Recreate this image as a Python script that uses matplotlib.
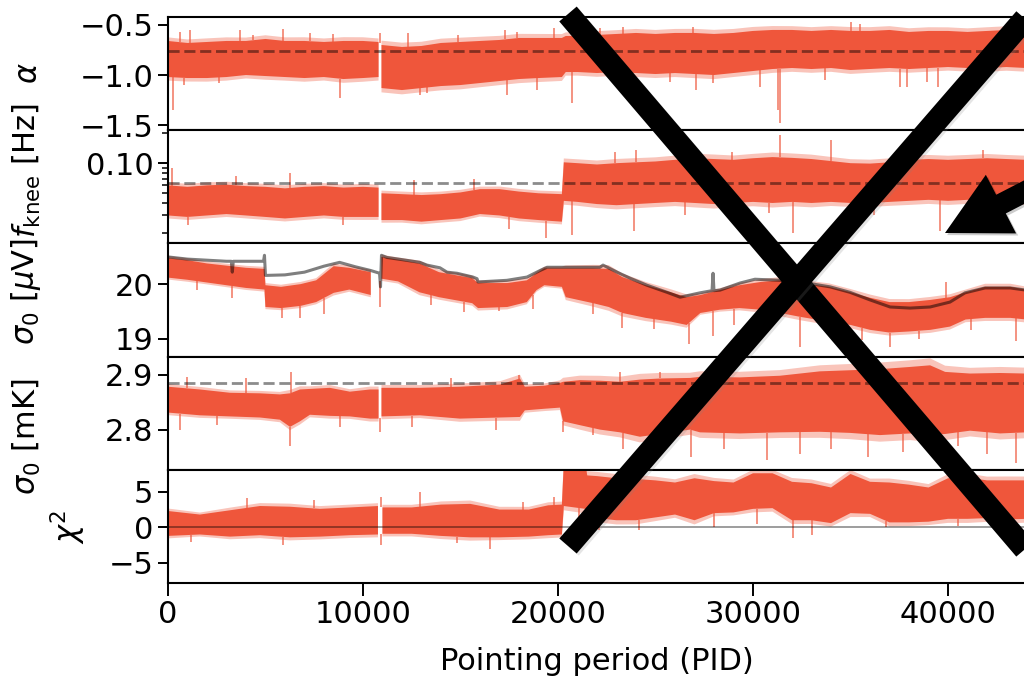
import numpy as np
import matplotlib
matplotlib.use('Agg')
import matplotlib.pyplot as plt
import matplotlib.patheffects as pe
from matplotlib.lines import Line2D
from matplotlib.patches import FancyArrow
from matplotlib.ticker import FixedLocator, NullFormatter, FormatStrFormatter, LogLocator

nan = np.nan

# --- alpha (spectral slope) ---
pid_a = [0, 1000, 2000, 3000, 4000, 5000, 6000, 7000, 8000, 9000, 10000, 10800, 10880, 10950,
         12000, 13000, 14000, 15000, 16000, 17000, 18000, 19000, 20200, 20400, 21000, 22000,
         23000, 24000, 25000, 26000, 27000, 28000, 29000, 30000, 31000, 32000, 33000, 34000,
         35000, 36000, 37000, 38000, 39000, 40000, 41000, 42000, 43000, 44000]
lo_a = [-1.02, -1.03, -1.03, -1.02, -1.00, -1.01, -1.02, -1.03, -1.02, -1.04, -1.03, -1.02, nan,
        -1.13, -1.15, -1.13, -1.11, -1.10, -1.08, -1.06, -1.04, -1.03, -1.02, -0.97, -0.97, -0.98,
        -0.97, -0.98, -0.99, -0.98, -0.99, -1.00, -0.98, -0.96, -0.94, -0.93, -0.94, -0.93, -0.95,
        -0.94, -0.93, -0.94, -0.93, -0.92, -0.93, -0.93, -0.92, -0.93]
hi_a = [-0.66, -0.68, -0.67, -0.66, -0.66, -0.64, -0.66, -0.66, -0.67, -0.66, -0.66, -0.67, nan,
        -0.70, -0.72, -0.71, -0.68, -0.67, -0.66, -0.65, -0.63, -0.63, -0.63, -0.61, -0.61, -0.60,
        -0.59, -0.58, -0.59, -0.58, -0.58, -0.59, -0.58, -0.56, -0.55, -0.55, -0.56, -0.55, -0.56,
        -0.56, -0.55, -0.57, -0.56, -0.56, -0.57, -0.56, -0.55, -0.56]
sp_a_pid = [250, 620, 800, 1130, 2600, 3700, 4360, 5900, 7280, 8460, 8820, 10870, 12300, 12900,
            13300, 14870, 17280, 17380, 17900, 18900, 19800, 20700, 22150, 23330, 25740, 26900,
            27100, 27950, 30360, 31300, 31400, 33700, 35000, 35500, 37540, 37900, 38900, 39500]
sp_a_val = [-1.35, -0.57, -1.10, -0.55, -1.08, -0.55, -0.60, -0.54, -0.58, -0.59, -1.23, -0.58,
            -0.58, -1.20, -1.18, -0.60, -0.55, -1.20, -0.57, -1.15, -0.53, -1.28, -0.53, -0.52,
            -1.07, -0.52, -1.15, -1.08, -1.12, -1.35, -1.48, -1.05, -0.47, -0.49, -1.12, -1.12,
            -1.07, -1.12]
ref_a = -0.76

# --- f_knee ---
pid_f = [0, 1000, 2000, 3000, 4000, 5000, 6000, 7000, 8000, 9000, 10000, 10800, 10880, 10950,
         12000, 13000, 14000, 15000, 16000, 17000, 18000, 19000, 20200, 20300, 21000, 22000,
         23000, 24000, 25000, 26000, 27000, 28000, 29000, 30000, 31000, 32000, 33000, 34000,
         35000, 36000, 37000, 38000, 39000, 40000, 41000, 42000, 43000, 44000]
lo_f = [0.030, 0.029, 0.030, 0.031, 0.030, 0.029, 0.028, 0.029, 0.030, 0.029, 0.029, 0.029, nan,
        0.027, 0.027, 0.026, 0.027, 0.028, 0.031, 0.030, 0.028, 0.027, 0.026, 0.042, 0.041, 0.039,
        0.038, 0.039, 0.040, 0.041, 0.040, 0.039, 0.040, 0.041, 0.040, 0.041, 0.040, 0.041, 0.040,
        0.040, 0.041, 0.042, 0.043, 0.042, 0.043, 0.042, 0.043, 0.042]
hi_f = [0.060, 0.058, 0.060, 0.061, 0.059, 0.058, 0.056, 0.058, 0.059, 0.057, 0.058, 0.057, nan,
        0.050, 0.049, 0.048, 0.049, 0.051, 0.055, 0.055, 0.052, 0.050, 0.049, 0.102, 0.100, 0.097,
        0.100, 0.102, 0.104, 0.108, 0.112, 0.110, 0.108, 0.112, 0.115, 0.113, 0.110, 0.105, 0.100,
        0.099, 0.102, 0.108, 0.110, 0.108, 0.110, 0.112, 0.110, 0.108]
sp_f_pid = [200, 1030, 3500, 6260, 9000, 12600, 15700, 17500, 19400, 20700, 22900, 23900, 24000,
            26500, 28900, 30800, 31400, 32050, 34000, 36200, 39600, 41800]
sp_f_val = [0.089, 0.024, 0.075, 0.079, 0.024, 0.068, 0.070, 0.022, 0.018, 0.019, 0.130, 0.021,
            0.135, 0.030, 0.129, 0.032, 0.190, 0.020, 0.170, 0.030, 0.021, 0.135]
ref_f = 0.063

# --- sigma0 [uV] ---
pid_s = [0, 1000, 2000, 3000, 4000, 4950, 5000, 5800, 6800, 7600, 8500, 9300, 10400, 10880,
         10950, 11800, 12900, 13900, 15600, 15900, 17400, 18400, 18900, 19300, 20200, 20400,
         21800, 22600, 23300, 24500, 25800, 26600, 27300, 28300, 29300, 30400, 31400, 32400,
         33900, 35000, 36000, 37000, 38000, 39100, 40100, 40900, 41900, 43200, 44000]
hi_s = [20.48, 20.44, 20.38, 20.34, 20.30, 20.28, 19.98, 19.95, 20.00, 20.07, 20.33, 20.30, 20.22,
        nan, 20.50, 20.45, 20.38, 20.22, 20.11, 20.02, 20.02, 20.07, 20.20, 20.29, 20.29, 20.29,
        20.29, 20.28, 20.13, 19.98, 19.85, 19.76, 19.80, 19.89, 19.98, 20.04, 20.07, 20.02, 19.95,
        19.85, 19.75, 19.67, 19.67, 19.71, 19.76, 19.85, 19.95, 19.95, 19.90]
lo_s = [20.12, 20.08, 20.03, 19.98, 19.93, 19.90, 19.58, 19.56, 19.60, 19.67, 19.84, 19.90, 19.80,
        nan, 20.10, 20.05, 19.85, 19.76, 19.65, 19.56, 19.58, 19.67, 19.89, 19.98, 19.95, 19.76,
        19.65, 19.58, 19.47, 19.38, 19.31, 19.25, 19.47, 19.53, 19.56, 19.53, 19.47, 19.40, 19.31,
        19.25, 19.16, 19.11, 19.13, 19.16, 19.22, 19.35, 19.38, 19.38, 19.35]
sp_s_pid = [1500, 3280, 5850, 6770, 8000, 10870, 13500, 15200, 17000, 18700, 21800, 23300, 24900,
            26700, 27950, 29000, 30600, 32400, 34400, 35600, 37000, 38500, 39900, 41200, 43500]
sp_s_val = [19.90, 19.75, 19.38, 19.38, 19.45, 19.58, 19.62, 19.48, 19.50, 19.55, 19.45, 19.20,
            19.18, 18.90, 19.04, 19.25, 19.30, 18.85, 19.05, 18.98, 18.84, 19.00, 20.04, 19.15, 18.95]
# white-noise level from the radiometer equation (grey curve)
pid_g = [0, 1000, 2000, 3000, 3250, 3300, 3350, 4000, 4900, 4950, 5000, 6000, 7000, 8000, 8800,
         9600, 10400, 10850, 10900, 10950, 11230, 12000, 12920, 13280, 13950, 14310, 14820, 15640,
         15850, 15900, 17380, 18410, 19080, 19440, 22150, 22310, 23030, 23690, 24560, 25590,
         26260, 27280, 27900, 27950, 28000, 28310, 29330, 30100, 31380, 32410, 33950, 34970,
         36000, 37030, 38050, 39080, 40100, 40870, 41900, 43180, 44000]
val_g = [20.50, 20.46, 20.44, 20.42, 20.42, 20.22, 20.42, 20.42, 20.42, 20.53, 20.16, 20.17,
         20.22, 20.33, 20.40, 20.32, 20.25, 20.20, 19.95, 20.53, 20.49, 20.45, 20.40, 20.35,
         20.30, 20.22, 20.20, 20.13, 20.10, 20.04, 20.07, 20.13, 20.25, 20.31, 20.31, 20.35,
         20.22, 20.11, 19.98, 19.85, 19.76, 19.84, 19.88, 20.20, 19.88, 19.89, 20.02, 20.09,
         20.07, 20.04, 19.95, 19.85, 19.71, 19.58, 19.56, 19.58, 19.67, 19.84, 19.93, 19.93, 19.89]

# --- sigma0 [mK] ---
pid_m = [0, 1640, 3180, 4720, 5740, 6260, 6770, 7280, 8300, 9330, 10360, 10800, 10880, 10950,
         12920, 14970, 17030, 18050, 18300, 19330, 20100, 20260, 21130, 22150, 23180, 24200,
         25230, 26770, 27280, 29330, 31380, 33430, 34970, 36510, 38050, 39080, 39850, 41130,
         42670, 44000]
hi_m = [2.878, 2.873, 2.867, 2.866, 2.864, 2.866, 2.873, 2.874, 2.876, 2.869, 2.873, 2.873, nan,
        2.876, 2.876, 2.878, 2.882, 2.893, 2.878, 2.880, 2.885, 2.887, 2.890, 2.889, 2.887, 2.891,
        2.893, 2.894, 2.896, 2.895, 2.898, 2.906, 2.908, 2.910, 2.914, 2.917, 2.905, 2.902, 2.903,
        2.902]
lo_m = [2.831, 2.826, 2.824, 2.822, 2.818, 2.805, 2.815, 2.827, 2.825, 2.824, 2.820, 2.820, nan,
        2.824, 2.826, 2.820, 2.822, 2.823, 2.835, 2.838, 2.840, 2.815, 2.808, 2.800, 2.795, 2.787,
        2.792, 2.800, 2.795, 2.793, 2.795, 2.796, 2.794, 2.790, 2.793, 2.790, 2.792, 2.798, 2.793,
        2.795]
sp_m_pid = [600, 1000, 2500, 4000, 6260, 6300, 8800, 10870, 12500, 14500, 16800, 18000, 20260,
            21800, 23180, 23330, 25000, 25250, 26800, 28500, 30700, 32400, 34000, 35900, 37700,
            40500, 42000, 43500]
sp_m_val = [2.800, 2.896, 2.808, 2.893, 2.770, 2.904, 2.805, 2.795, 2.805, 2.893, 2.800, 2.900,
            2.795, 2.790, 2.905, 2.765, 2.755, 2.905, 2.750, 2.765, 2.745, 2.755, 2.765, 2.750,
            2.760, 2.770, 2.755, 2.740]
ref_m = 2.885

# --- chi^2 ---
pid_c = [0, 1640, 3180, 4720, 6260, 7790, 9330, 10770, 10880, 11000, 12500, 14000, 15500, 17000,
         18500, 19500, 20200, 20300, 21400, 21500, 22000, 23000, 24000, 25000, 26000, 27000,
         28000, 29000, 30000, 31000, 32000, 33000, 34000, 35000, 36000, 37000, 38000, 39000,
         40000, 41000, 42000, 43000, 44000]
hi_c = [2.3, 1.8, 2.4, 3.0, 2.9, 2.6, 2.8, 3.0, nan, 2.8, 2.8, 3.2, 3.3, 2.5, 2.5, 3.1, 3.2, 9.0,
        9.0, 7.3, 7.2, 6.9, 6.8, 6.6, 6.3, 6.9, 6.5, 6.3, 7.6, 7.6, 6.4, 6.2, 5.6, 7.5, 6.4, 6.3,
        6.0, 5.6, 6.9, 7.0, 6.6, 6.6, 6.6]
lo_c = [-1.2, -1.0, -1.3, -1.1, -1.4, -1.3, -1.1, -1.0, nan, -0.9, -0.9, -1.2, -1.4, -1.4, -1.3,
        -1.1, -1.0, 3.0, 2.6, 1.4, 1.3, 1.0, 1.0, 1.4, 1.8, 1.0, 2.0, 2.1, 2.6, 2.7, 1.0, 1.0, 0.6,
        2.0, 1.9, 0.7, 0.7, 0.8, 1.2, 1.2, 1.3, 1.1, 1.2]
sp_c_pid = [1200, 4050, 5900, 7500, 10900, 10950, 12900, 14800, 16500, 18200, 19800, 21100,
            22100, 24150, 28000, 30200, 32050, 33050, 36800, 40500]
sp_c_val = [-2.0, 4.1, -2.5, 3.8, 4.2, -2.5, 4.9, -2.2, -3.0, 3.6, 4.2, 0.3, -0.4, -0.4, 0.0, 0.5,
            -1.5, -1.1, 0.0, 0.2]

RED = '#EF563B'
FS = 22

plt.rcParams['font.size'] = FS
plt.rcParams['axes.linewidth'] = 1.5
plt.rcParams['mathtext.fontset'] = 'dejavusans'

fig = plt.figure(figsize=(10.24, 6.77), dpi=100)
gs = fig.add_gridspec(5, 1, left=0.164, right=1.002, top=0.975, bottom=0.139, hspace=0)
axes = [fig.add_subplot(gs[i]) for i in range(5)]


def band(ax, pid, lo, hi, sp_pid, sp_val, log=False):
    pid = np.asarray(pid, float)
    lo = np.asarray(lo, float)
    hi = np.asarray(hi, float)
    # soft fringe around the dense part of the scatter
    if log:
        w = np.log(hi / lo) * 0.1
        ax.fill_between(pid, lo * np.exp(-w), hi * np.exp(w), color=RED, lw=0, alpha=0.35)
    else:
        w = (hi - lo) * 0.1
        ax.fill_between(pid, lo - w, hi + w, color=RED, lw=0, alpha=0.35)
    ax.fill_between(pid, lo, hi, color=RED, lw=0)
    ok = ~np.isnan(lo)
    lo_i = np.interp(sp_pid, pid[ok], lo[ok])
    hi_i = np.interp(sp_pid, pid[ok], hi[ok])
    start = np.where(np.asarray(sp_val) > hi_i, hi_i, lo_i)
    ax.vlines(sp_pid, start, sp_val, color=RED, lw=1.2, alpha=0.75)


band(axes[0], pid_a, lo_a, hi_a, sp_a_pid, sp_a_val)
band(axes[1], pid_f, lo_f, hi_f, sp_f_pid, sp_f_val, log=True)
band(axes[2], pid_s, lo_s, hi_s, sp_s_pid, sp_s_val)
band(axes[3], pid_m, lo_m, hi_m, sp_m_pid, sp_m_val)
band(axes[4], pid_c, lo_c, hi_c, sp_c_pid, sp_c_val)

dash = dict(color='k', ls='--', lw=2, alpha=0.45, dashes=(4, 1.7))
axes[0].axhline(ref_a, **dash)
axes[1].axhline(ref_f, **dash)
axes[3].axhline(ref_m, **dash)
axes[2].plot(pid_g, val_g, color='k', alpha=0.5, lw=2.2)
axes[4].axhline(0, color='k', alpha=0.45, lw=1.2)

axes[1].set_yscale('log')
axes[0].set_ylim(-1.55, -0.42)
axes[1].set_ylim(0.0158, 0.214)
axes[2].set_ylim(18.67, 20.75)
axes[3].set_ylim(2.727, 2.933)
axes[4].set_ylim(-7.8, 8.1)

axes[0].set_yticks([-1.5, -1.0, -0.5])
axes[1].yaxis.set_major_locator(FixedLocator([0.1]))
axes[1].yaxis.set_major_formatter(FormatStrFormatter('%.2f'))
axes[1].yaxis.set_minor_locator(LogLocator(base=10, subs=np.arange(2, 10)))
axes[1].yaxis.set_minor_formatter(NullFormatter())
axes[2].set_yticks([19, 20])
axes[3].set_yticks([2.8, 2.9])
axes[4].set_yticks([-5, 0, 5])

labels = [r'$\alpha$', r'$f_\mathrm{knee}$ [Hz]', r'$\sigma_0$ [$\mu$V]',
          r'$\sigma_0$ [mK]', r'$\chi^2$']
label_x = [-0.146, -0.146, -0.146, -0.146, -0.093]
label_y = [0.5, 0.64, 0.575, 0.29, 0.5]
for i, ax in enumerate(axes):
    ax.set_xlim(0, 44000)
    ax.tick_params(which='major', length=7, width=1.4, labelsize=FS)
    ax.tick_params(which='minor', length=4, width=1.1)
    ax.set_ylabel(labels[i], fontsize=FS)
    ax.yaxis.set_label_coords(label_x[i], label_y[i])
    if i < 4:
        ax.tick_params(axis='x', bottom=False, labelbottom=False)

axes[4].set_xticks([0, 10000, 20000, 30000, 40000])
axes[4].tick_params(axis='x', length=9)
axes[4].set_xlabel('Pointing period (PID)', fontsize=FS)
axes[4].xaxis.set_label_coords(0.5, -0.57)

# big "X" and arrow drawn over the figure (inches from lower-left corner)
inch = fig.dpi_scale_trans
shadow = [pe.SimpleLineShadow(offset=(1.5, -1.5), shadow_color='gray', alpha=0.2), pe.Normal()]
for xs, ys in [((5.68, 10.30), (6.63, 1.22)), ((5.68, 10.30), (1.31, 6.64))]:
    fig.add_artist(Line2D(xs, ys, transform=inch, color='k', lw=16.5,
                          solid_capstyle='butt', path_effects=shadow))
arrow = FancyArrow(11.0, 5.24, -1.55, -0.80, width=0.21, head_width=0.66, head_length=0.63,
                   length_includes_head=True, transform=inch, color='k', lw=0,
                   path_effects=[pe.SimplePatchShadow(offset=(1.5, -1.5), alpha=0.2), pe.Normal()])
fig.add_artist(arrow)

fig.savefig('out.png', dpi=100)
